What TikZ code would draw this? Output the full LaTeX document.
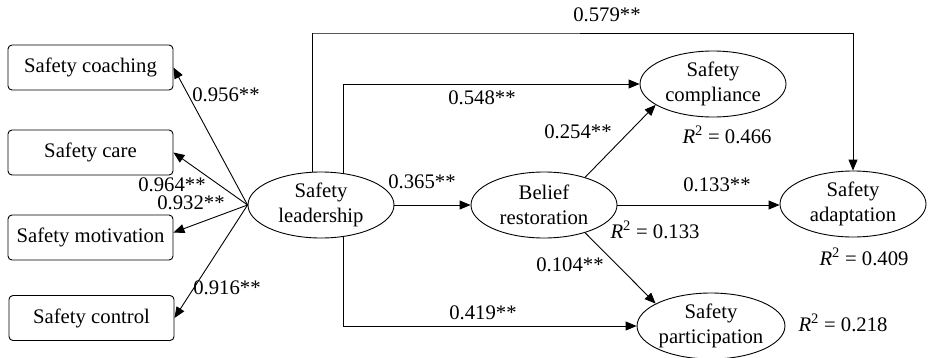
\documentclass[tikz,border=0pt]{standalone}
\usepackage{fontspec}
\setmainfont{Liberation Serif}
\usetikzlibrary{arrows.meta,shapes.geometric}
\newcommand{\rsq}{\textit{R}\textsuperscript{2}}
\begin{document}
\begin{tikzpicture}[x=1pt,y=-1pt,
  every node/.style={font=\fontsize{20.7}{25}\selectfont},
  box/.style={draw, rounded corners=4pt, minimum width=165pt, minimum height=45pt, inner sep=0pt, line width=0.9pt},
  ell/.style={draw, ellipse, minimum width=146pt, minimum height=66pt, inner sep=0pt, align=center, line width=0.9pt},
  arr/.style={-{Triangle[length=11pt,width=9pt]}, line width=0.9pt},
  lab/.style={inner sep=0pt}]
\useasboundingbox (0,0) rectangle (928,357);
% indicator boxes
\node[box] (coach) at (90.5,67.5) {Safety coaching};
\node[box] (care) at (90.5,152.5) {Safety care};
\node[box] (motiv) at (90.5,237.5) {Safety motivation};
\node[box] (control) at (91.5,318) {Safety control};
% latent variables
\node[ell] (lead) at (321,205) {Safety\\leadership};
\node[ell] (belief) at (544,205) {Belief\\restoration};
\node[ell] (comp) at (713,84) {Safety\\compliance};
\node[ell] (adapt) at (853,204) {Safety\\adaptation};
\node[ell] (part) at (711,326) {Safety\\participation};
\coordinate (tl) at (312,33);
% loadings
\draw[arr] (lead.west) -- (coach.east);
\draw[arr] (lead.west) -- (care.east);
\draw[arr] (lead.west) -- ([yshift=5pt]motiv.east);
\draw[arr] (lead.west) -- (control.east);
% paths
\draw[arr] (lead.east) -- (belief.west);
\draw[arr] (lead.105) |- (tl) -| (adapt.north);
\draw[arr] (lead.55) |- (comp.west);
\draw[arr] (lead.-55) |- (part.west);
\draw[arr] (belief.34) -- (comp.200);
\draw[arr] (belief.-34) -- (part.158);
\draw[arr] (belief.east) -- (belief.east -| adapt.west);
% labels
\node[lab] (l579) at (607,15) {0.579**};
\node[lab] (l548) at (482,98) {0.548**};
\node[lab] (l254) at (578,132) {0.254**};
\node[lab] (l365) at (422,182) {0.365**};
\node[lab] (l133) at (717,185) {0.133**};
\node[lab] (l104) at (570,265) {0.104**};
\node[lab] (l419) at (483,313) {0.419**};
\node[lab] (l956) at (226,95) {0.956**};
\node[lab] (l964) at (172,185) {0.964**};
\node[lab] (l932) at (191,203) {0.932**};
\node[lab] (l916) at (227,288) {0.916**};
\node[lab] (r466) at (727,135) {\rsq{} = 0.466};
\node[lab] (r133) at (655,230) {\rsq{} = 0.133};
\node[lab] (r409) at (864,257) {\rsq{} = 0.409};
\node[lab] (r218) at (843,323) {\rsq{} = 0.218};
\end{tikzpicture}
\end{document}
